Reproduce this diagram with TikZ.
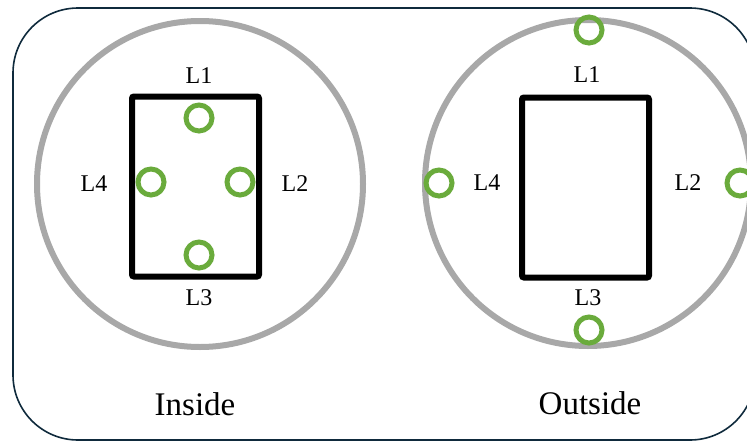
\documentclass[tikz,border=0pt]{standalone}
\usepackage{fontspec}
\setmainfont{Liberation Serif}
\usepackage{xcolor}
\usetikzlibrary{positioning}
\definecolor{frameink}{HTML}{0F2A3C}
\definecolor{ringgrey}{HTML}{A8A8A8}
\definecolor{probe}{HTML}{6AAB3C}

\begin{document}
\begin{tikzpicture}[x=1pt,y=-1pt,font=\fontsize{24}{28}\selectfont,
     zone/.style={draw=ringgrey,line width=6pt,circle,minimum size=326pt,inner sep=0pt},
     room/.style={draw=black,line width=6pt,rounded corners=2pt,minimum width=127pt,minimum height=180pt,inner sep=0pt},
     sens/.style={draw=probe,line width=5pt,circle,minimum size=26pt,inner sep=0pt},
     caption/.style={font=\fontsize{33}{36}\selectfont}]
    \useasboundingbox (0,0) rectangle (747,442);
    \draw[frameink,line width=1.6pt,rounded corners=65pt] (13,8) rectangle (755,440);
    % inside placement
    \node[zone](zin) at (200,184){};
    \node[room](rin) at (195.5,186.5){};
    \node[sens](pin1) at (199,118){};  \node[sens](pin2) at (240,182){};
    \node[sens](pin3) at (199,255){};  \node[sens](pin4) at (151,182){};
    \node(lin1) at (199,76){L1};   \node(lin2) at (295,184){L2};
    \node(lin3) at (199,298){L3};  \node(lin4) at (94,184){L4};
    \node[caption](tin) at (195,404){Inside};
    % outside placement
    \node[zone](zout) at (588,183){};
    \node[room](rout) at (585.5,187.5){};
    \node[sens](pout1) at (589,30){};   \node[sens](pout2) at (740,183){};
    \node[sens](pout3) at (589,330){};  \node[sens](pout4) at (439,183){};
    \node(lout1) at (587,75){L1};   \node(lout2) at (688,183){L2};
    \node(lout3) at (588,298){L3};  \node(lout4) at (487,183){L4};
    \node[caption](tout) at (590,403){Outside};
\end{tikzpicture}
\end{document}
